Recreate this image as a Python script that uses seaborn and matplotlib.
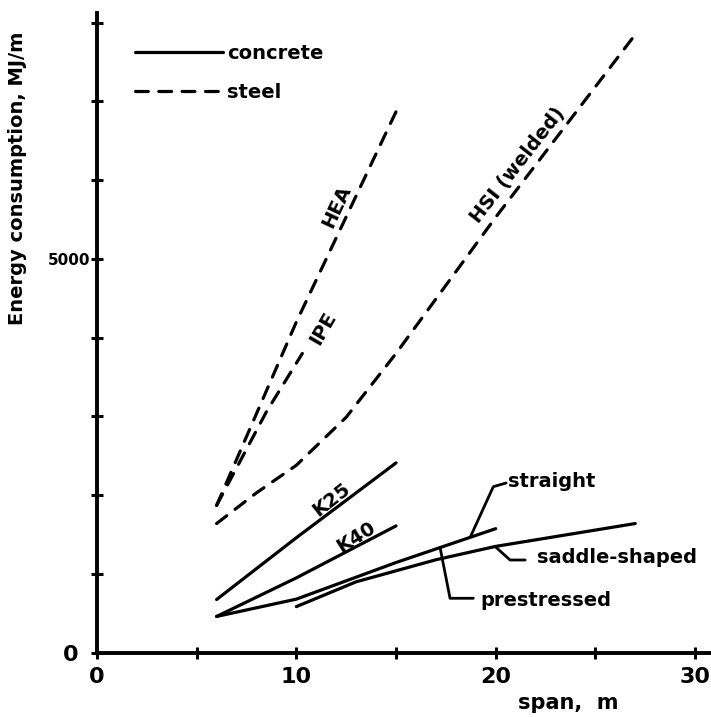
import numpy as np
import pandas as pd
import matplotlib
matplotlib.use("Agg")
import matplotlib.pyplot as plt
from matplotlib.lines import Line2D
import seaborn as sns

# Energy consumption per metre of beam against span
span_hea = [6, 10, 15]
energy_hea = [1870, 4200, 6870]

span_ipe = [6, 8.5, 10.3]
energy_ipe = [1870, 3060, 3800]

span_hsi = [6, 8, 10, 12.5, 15, 20, 27]
energy_hsi = [1640, 2030, 2380, 2990, 3800, 5530, 7850]

span_k25 = [6, 10, 15]
energy_k25 = [675, 1460, 2410]

span_k40 = [6, 10, 15]
energy_k40 = [460, 950, 1610]

span_straight = [6, 10, 15, 20]
energy_straight = [460, 680, 1145, 1575]

span_saddle = [10, 13, 17, 20, 27]
energy_saddle = [585, 900, 1180, 1350, 1640]

x_ticks = [0, 5, 10, 15, 20, 25, 30]
x_tick_labels = ["0", "", "10", "", "20", "", "30"]
y_ticks = [0, 1000, 2000, 3000, 4000, 5000, 6000, 7000, 8000]
y_tick_labels = ["0", "", "", "", "", "5000", "", "", ""]

series = [
    ("HEA", "steel", span_hea, energy_hea),
    ("IPE", "steel", span_ipe, energy_ipe),
    ("HSI", "steel", span_hsi, energy_hsi),
    ("K25", "concrete", span_k25, energy_k25),
    ("K40", "concrete", span_k40, energy_k40),
    ("straight", "concrete", span_straight, energy_straight),
    ("saddle", "concrete", span_saddle, energy_saddle),
]
df = pd.concat(
    [pd.DataFrame({"span": xs, "energy": ys, "series": name, "material": mat})
     for name, mat, xs, ys in series],
    ignore_index=True,
)

sns.set_theme(style="white")
plt.rcParams["font.family"] = ["DejaVu Sans"]
plt.rcParams["lines.dash_capstyle"] = "round"
plt.rcParams["lines.solid_capstyle"] = "round"
for key in ("text.color", "axes.labelcolor", "xtick.color", "ytick.color",
            "axes.edgecolor"):
    plt.rcParams[key] = "black"

LW = 2.3
DASH = (4, 3.3)

fig = plt.figure(figsize=(7.11, 7.17), dpi=100)
ax = fig.add_axes([0.1364, 0.0897, 0.8636, 0.8922])

sns.lineplot(
    data=df, x="span", y="energy", units="series", estimator=None,
    style="material", style_order=["concrete", "steel"],
    dashes={"concrete": "", "steel": DASH},
    color="black", lw=LW, sort=False, legend=False, ax=ax,
)

ax.set_xlim(0, 30.8)
ax.set_ylim(0, 8124)

for side in ("top", "right"):
    ax.spines[side].set_visible(False)
for side in ("left", "bottom"):
    ax.spines[side].set_linewidth(2.8)
    ax.spines[side].set_color("black")

ax.set_xticks(x_ticks)
ax.set_xticklabels(x_tick_labels, fontsize=16, fontweight="bold")
ax.set_yticks(y_ticks)
ax.set_yticklabels(y_tick_labels, fontsize=16, fontweight="bold")
ax.tick_params(axis="both", which="major", bottom=True, left=True,
               direction="inout", length=8, width=2.2, color="black", pad=6)
ax.get_yticklabels()[5].set_fontsize(11)
ax.yaxis.get_major_ticks()[5].set_pad(1)
ax.yaxis.get_major_ticks()[0].set_pad(9)

ax.set_xlabel("span,  m", fontsize=15, fontweight="bold")
ax.xaxis.set_label_coords(0.767, -0.0786)
ax.xaxis.label.set_va("center")
ax.set_ylabel("Energy consumption, MJ/m", fontsize=14, fontweight="bold")
ax.yaxis.set_label_coords(-0.130, 0.742)
ax.yaxis.label.set_va("center")

# legend for the two materials
handles = [
    Line2D([], [], color="black", lw=LW),
    Line2D([], [], color="black", lw=LW, dashes=DASH),
]
ax.legend(handles, ["concrete", "steel"], loc="upper left",
          bbox_to_anchor=(0.062, 0.952), frameon=False, handlelength=4.5,
          handletextpad=0.25, labelspacing=1.05,
          borderaxespad=0, borderpad=0, prop={"weight": "bold", "size": 14})

# labels written along the curves
txt = dict(fontsize=14, fontweight="bold", ha="center", va="center",
           color="black")
ax.text(12.04, 5661, "HEA", rotation=65, **txt)
ax.text(11.34, 4122, "IPE", rotation=60, **txt)
ax.text(21.12, 6190, "HSI (welded)", rotation=52, **txt)
ax.text(11.74, 1939, "K25", rotation=38, **txt)
ax.text(13.0, 1470, "K40", rotation=32, **txt)

# leader lines for the prestressed beams
lead = dict(color="black", lw=2.0, solid_capstyle="round")
xs = 18.72
ys = np.interp(xs, span_straight, energy_straight)
ax.plot([xs, 19.88, 20.52], [ys, 2108, 2155], **lead)
ax.text(20.6, 2172, "straight", ha="left", va="center", fontsize=14,
        fontweight="bold")

xd = 19.97
yd = np.interp(xd, span_saddle, energy_saddle)
ax.plot([xd, 20.72, 21.48], [yd, 1177, 1177], **lead)
ax.text(22.08, 1215, "saddle-shaped", ha="left", va="center", fontsize=14,
        fontweight="bold")

xp = 17.21
yp = np.interp(xp, span_straight, energy_straight)
ax.plot([xp, 17.71, 18.88], [yp, 691, 691], **lead)
ax.text(19.22, 668, "prestressed", ha="left", va="center", fontsize=14,
        fontweight="bold")

fig.savefig("out.png", dpi=100, facecolor="white")
